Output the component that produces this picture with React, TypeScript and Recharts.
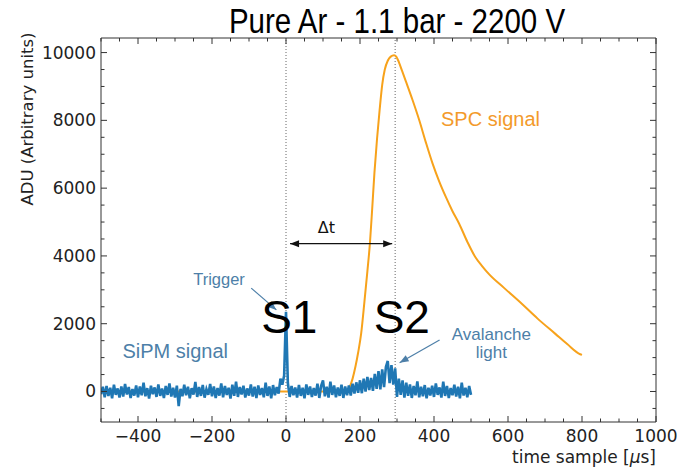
import { LineChart, Line, XAxis, YAxis, ReferenceLine, ReferenceDot } from 'recharts';

// SiPM trace, sampled every 5 us from -500 to 500
const sipmStart = -500;
const sipmStep = 5;
const sipmValues = [
  -80, 140, -170, 160, -130, 110, -200, 200, -100, 90, -180, 150, -150, 220, -90, 130, -190, 70, -120, 180,
  -170, 150, -110, 260, -140, 100, -210, 170, -80, 120, -160, 210, -130, 90, -190, 160, -100, 240, -150, 110,
  -180, 170, -430, 80, -140, 200, -110, 140, -200, 100, -90, 280, -160, 130, -130, 190, -180, 70, -100, 220,
  -140, 150, -190, 100, -120, 240, -170, 160, -100, 110, -210, 200, -130, 290, -160, 130, -90, 170, -180, 90,
  -120, 210, -150, 140, -190, 180, -100, 100, -170, 260, -130, 150, -200, 190, -110, 130, -60, 380, 200, 470,
  2350, 250, -160, 160, -110, 120, -180, 190, -130, 110, -200, 210, -100, 150, -160, 100, -120, 230, -190, 170,
  330, -140, 140, -180, 290, -100, 180, -170, 120, -130, 200, -190, 150, -110, 180, -120, 230, -60, 270, -40,
  330, -50, 380, 0, 430, 40, 400, 20, 520, 80, 600, 60, 650, 130, 720, 900, 250, 780, 200, 680,
  -160, 380, -100, 330, -180, 260, -130, 210, -190, 160, -110, 300, -170, 140, -140, 190, -200, 110, -120, 170,
  -160, 240, -100, 120, -180, 290, -130, 160, -190, 100, -110, 200, -150, 140, -200, 260, -120, 110, -170, 160,
  -100,
];
const sipmData = sipmValues.map((v, i) => ({ t: sipmStart + i * sipmStep, v }));

// SPC pulse
const spcTimes = [
  -500, 0, 160, 165, 172, 180, 188, 195, 203, 212, 220, 227, 233, 239, 246, 253, 260, 267, 275, 283,
  292, 298, 305, 314, 324, 342, 360, 378, 396, 414, 432, 450, 468, 490, 512, 530, 548, 590, 638, 680,
  728, 760, 795, 800,
];
const spcValues = [
  0, 0, 0, 20, 130, 380, 750, 1150, 1700, 2650, 3550, 4400, 5400, 6450, 7450, 8300, 9050, 9500, 9760, 9880,
  9920, 9880, 9720, 9450, 9150, 8600, 8010, 7350, 6730, 6200, 5740, 5320, 4950, 4420, 3960, 3700, 3470, 3050, 2580, 2150,
  1700, 1400, 1100, 1080,
];
const spcData = spcTimes.map((t, i) => ({ t, v: spcValues[i] }));

const xTicks = [
  -500, -450, -400, -350, -300, -250, -200, -150, -100, -50, 0, 50, 100, 150, 200, 250, 300, 350, 400, 450,
  500, 550, 600, 650, 700, 750, 800, 850, 900, 950, 1000,
];
const xMajor = [-400, -200, 0, 200, 400, 600, 800, 1000];
const yTicks = [
  -500, 0, 500, 1000, 1500, 2000, 2500, 3000, 3500, 4000, 4500, 5000, 5500, 6000, 6500, 7000, 7500, 8000,
  8500, 9000, 9500, 10000,
];
const yMajor = [0, 2000, 4000, 6000, 8000, 10000];

const markers = [0, 295];

const axisColor = '#333';
const tickFont = 'DejaVu Sans';
const noteBlue = '#4d7fa8';
const fmt = (v: number) => (v < 0 ? '\u2212' + Math.abs(v) : String(v));

const BottomTick = ({ x, y, payload }: any) => {
  const major = xMajor.includes(payload.value);
  return (
    <g>
      <line x1={x} x2={x} y1={y} y2={y - (major ? 6 : 3.5)} stroke={axisColor} />
      {major && (
        <text x={x} y={y + 20} textAnchor="middle" fontSize={17} fontFamily={tickFont} fill="#222">
          {fmt(payload.value)}
        </text>
      )}
    </g>
  );
};

const TopTick = ({ x, y, payload }: any) => {
  const major = xMajor.includes(payload.value);
  return <line x1={x} x2={x} y1={y} y2={y + (major ? 6 : 3.5)} stroke={axisColor} />;
};

const LeftTick = ({ x, y, payload }: any) => {
  const major = yMajor.includes(payload.value);
  return (
    <g>
      <line x1={x} x2={x + (major ? 6 : 3.5)} y1={y} y2={y} stroke={axisColor} />
      {major && (
        <text x={x - 5} y={y + 6} textAnchor="end" fontSize={17} fontFamily={tickFont} fill="#222">
          {fmt(payload.value)}
        </text>
      )}
    </g>
  );
};

const RightTick = ({ x, y, payload }: any) => {
  const major = yMajor.includes(payload.value);
  return <line x1={x} x2={x - (major ? 6 : 3.5)} y1={y} y2={y} stroke={axisColor} />;
};

const head = (x1: number, y1: number, x2: number, y2: number, len: number, w: number) => {
  const a = Math.atan2(y2 - y1, x2 - x1);
  const bx = x2 - len * Math.cos(a);
  const by = y2 - len * Math.sin(a);
  const px = (w / 2) * Math.sin(a);
  const py = (w / 2) * Math.cos(a);
  return `${x2},${y2} ${bx + px},${by - py} ${bx - px},${by + py}`;
};

const makeArrow = (color: string, both: boolean, width: number) => (p: any) => {
  const { x1, y1, x2, y2 } = p;
  return (
    <g>
      <line x1={x1} y1={y1} x2={x2} y2={y2} stroke={color} strokeWidth={width} />
      <polygon points={head(x1, y1, x2, y2, 9, 7)} fill={color} />
      {both && <polygon points={head(x2, y2, x1, y1, 9, 7)} fill={color} />}
    </g>
  );
};

const makeText = (text: string, opts: any) => (p: any) => (
  <text x={p.cx} y={p.cy} {...opts}>
    {text}
  </text>
);

const noteFont = 'Liberation Sans';

export default function App() {
  return (
    <div style={{ position: 'absolute', left: 0, top: 0, width: 677, height: 468, background: '#fff' }}>
      <LineChart width={677} height={468} margin={{ top: 37, right: 20, bottom: 16, left: 41 }}>
        <XAxis
          xAxisId="b"
          dataKey="t"
          type="number"
          domain={[-500, 1000]}
          ticks={xTicks}
          interval={0}
          allowDataOverflow
          height={30}
          tickSize={0}
          tickMargin={0}
          tickLine={false}
          axisLine={{ stroke: axisColor }}
          tick={<BottomTick />}
        />
        <XAxis
          xAxisId="t"
          orientation="top"
          dataKey="t"
          type="number"
          domain={[-500, 1000]}
          ticks={xTicks}
          interval={0}
          allowDataOverflow
          height={1}
          tickSize={0}
          tickMargin={0}
          tickLine={false}
          axisLine={{ stroke: axisColor }}
          tick={<TopTick />}
        />
        <YAxis
          yAxisId="l"
          type="number"
          domain={[-900, 10430]}
          ticks={yTicks}
          interval={0}
          allowDataOverflow
          width={60}
          tickSize={0}
          tickMargin={0}
          tickLine={false}
          axisLine={{ stroke: axisColor }}
          tick={<LeftTick />}
        />
        <YAxis
          yAxisId="r"
          orientation="right"
          type="number"
          domain={[-900, 10430]}
          ticks={yTicks}
          interval={0}
          allowDataOverflow
          width={1}
          tickSize={0}
          tickMargin={0}
          tickLine={false}
          axisLine={{ stroke: axisColor }}
          tick={<RightTick />}
        />
        {markers.map((m) => (
          <ReferenceLine
            key={m}
            xAxisId="b"
            yAxisId="l"
            x={m}
            stroke="#666"
            strokeWidth={1}
            strokeDasharray="1 2"
          />
        ))}
        <Line
          xAxisId="b"
          yAxisId="l"
          data={spcData}
          dataKey="v"
          type="monotone"
          stroke="#f7a21b"
          strokeWidth={2}
          dot={false}
          isAnimationActive={false}
        />
        <Line
          xAxisId="b"
          yAxisId="l"
          data={sipmData}
          dataKey="v"
          type="linear"
          stroke="#1f77b4"
          strokeWidth={2.6}
          dot={false}
          isAnimationActive={false}
        />
        <ReferenceLine
          xAxisId="b"
          yAxisId="l"
          segment={[{ x: 11, y: 4361 }, { x: 287, y: 4361 }]}
          shape={makeArrow('#111', true, 1.3)}
        />
        <ReferenceLine
          xAxisId="b"
          yAxisId="l"
          segment={[{ x: -94, y: 3049 }, { x: -26, y: 2408 }]}
          shape={makeArrow(noteBlue, false, 1.2)}
        />
        <ReferenceLine
          xAxisId="b"
          yAxisId="l"
          segment={[{ x: 415, y: 1521 }, { x: 307, y: 851 }]}
          shape={makeArrow(noteBlue, false, 1.2)}
        />
        <ReferenceDot xAxisId="b" yAxisId="l" x={109} y={4674} shape={makeText('\u0394t', { textAnchor: 'middle', fontSize: 16, fontFamily: tickFont, fill: '#111' })} />
        <ReferenceDot xAxisId="b" yAxisId="l" x={-181} y={3146} shape={makeText('Trigger', { textAnchor: 'middle', fontSize: 16.5, fontFamily: noteFont, fill: noteBlue })} />
        <ReferenceDot xAxisId="b" yAxisId="l" x={9} y={1740} shape={makeText('S1', { textAnchor: 'middle', fontSize: 46, fontFamily: noteFont, fill: '#000' })} />
        <ReferenceDot xAxisId="b" yAxisId="l" x={313} y={1740} shape={makeText('S2', { textAnchor: 'middle', fontSize: 46, fontFamily: noteFont, fill: '#000' })} />
        <ReferenceDot xAxisId="b" yAxisId="l" x={-442} y={990} shape={makeText('SiPM signal', { textAnchor: 'start', fontSize: 20, fontFamily: noteFont, fill: noteBlue })} />
        <ReferenceDot xAxisId="b" yAxisId="l" x={419} y={7823} shape={makeText('SPC signal', { textAnchor: 'start', fontSize: 20, fontFamily: noteFont, fill: '#f39a2b' })} />
        <ReferenceDot xAxisId="b" yAxisId="l" x={555} y={1521} shape={makeText('Avalanche', { textAnchor: 'middle', fontSize: 17, fontFamily: noteFont, fill: noteBlue })} />
        <ReferenceDot xAxisId="b" yAxisId="l" x={555} y={981} shape={makeText('light', { textAnchor: 'middle', fontSize: 17, fontFamily: noteFont, fill: noteBlue })} />
        <text
          x={0}
          y={0}
          textAnchor="middle"
          fontSize={36}
          fontFamily="Liberation Sans"
          fill="#000"
          transform="translate(397 33) scale(0.82 1)"
        >
          Pure Ar - 1.1 bar - 2200 V
        </text>
        <text x={656} y={463} textAnchor="end" fontSize={17} fontFamily={tickFont} fill="#222">
          time sample [<tspan fontStyle="italic">μ</tspan>s]
        </text>
        <text
          x={33}
          y={119}
          textAnchor="middle"
          fontSize={16.5}
          fontFamily={tickFont}
          fill="#222"
          transform="rotate(-90 33 119)"
        >
          ADU (Arbitrary units)
        </text>
      </LineChart>
    </div>
  );
}
